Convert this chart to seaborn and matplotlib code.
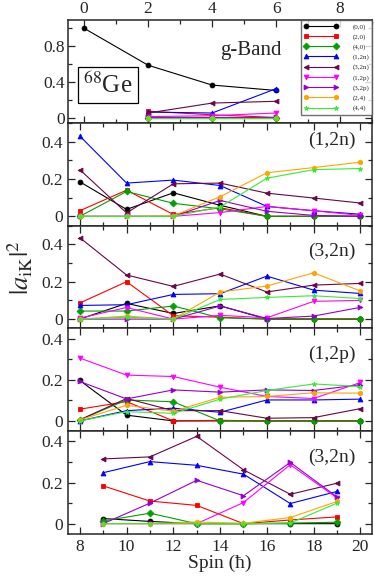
import matplotlib
matplotlib.use('Agg')
import matplotlib.pyplot as plt
from matplotlib.lines import Line2D
from matplotlib.ticker import MultipleLocator
import numpy as np
import pandas as pd
import seaborn as sns

# components and styles
comps = ['(0,0)', '(2,0)', '(4,0)', '(1,2n)', '(3,2n)', '(1,2p)', '(3,2p)', '(2,4)', '(4,4)']
colors = ['#000000', '#ff0000', '#00a000', '#0000ff', '#670748', '#ff00ff', '#9400d3', '#ffa500', '#33ee33']
marks = ['o', 's', 'D', '^', '<', 'v', '>', 'h', '*']

# g-band (spin 0..6)
spin_g = [0, 2, 4, 6]
gband = {
    '(0,0)': [1.00, 0.59, 0.37, 0.31],
    '(2,0)': [None, 0.08, 0.04, 0.01],
    '(4,0)': [None, 0.00, 0.00, 0.00],
    '(1,2n)': [None, 0.07, 0.06, 0.33],
    '(3,2n)': [None, 0.06, 0.17, 0.19],
    '(1,2p)': [None, 0.02, 0.03, 0.06],
    '(3,2p)': [None, 0.02, 0.02, 0.02],
    '(2,4)': [None, 0.00, 0.00, 0.00],
    '(4,4)': [None, 0.00, 0.00, 0.00],
}

# even-spin bands (spin 8..20)
spin_even = [8, 10, 12, 14, 16, 18, 20]
band_12n = {
    '(0,0)': [0.185, 0.037, 0.126, 0.059, 0.0, 0.0, 0.0],
    '(2,0)': [0.030, 0.140, 0.010, 0.046, 0.0, 0.0, 0.0],
    '(4,0)': [0.0, 0.133, 0.070, 0.040, 0.0, 0.0, 0.0],
    '(1,2n)': [0.430, 0.178, 0.194, 0.165, 0.053, 0.030, 0.011],
    '(3,2n)': [0.250, 0.018, 0.174, 0.178, 0.124, 0.098, 0.071],
    '(1,2p)': [0.0, 0.0, 0.0, 0.020, 0.053, 0.030, 0.005],
    '(3,2p)': [0.0, 0.0, 0.0, 0.085, 0.027, 0.005, 0.0],
    '(2,4)': [0.0, 0.0, 0.003, 0.105, 0.233, 0.261, 0.290],
    '(4,4)': [0.0, 0.0, 0.0, 0.050, 0.204, 0.250, 0.256],
}
band_32n = {
    '(0,0)': [0.0, 0.084, 0.030, 0.071, 0.0, 0.0, 0.0],
    '(2,0)': [0.086, 0.200, 0.018, 0.010, 0.0, 0.0, 0.0],
    '(4,0)': [0.043, 0.043, 0.070, 0.007, 0.0, 0.0, 0.0],
    '(1,2n)': [0.073, 0.077, 0.132, 0.136, 0.230, 0.155, 0.137],
    '(3,2n)': [0.436, 0.236, 0.175, 0.241, 0.145, 0.182, 0.191],
    '(1,2p)': [0.005, 0.062, 0.0, 0.020, 0.007, 0.095, 0.100],
    '(3,2p)': [0.0, 0.0, 0.0, 0.070, 0.003, 0.016, 0.063],
    '(2,4)': [0.0, 0.016, 0.0, 0.145, 0.177, 0.248, 0.150],
    '(4,4)': [0.0, 0.010, 0.0, 0.105, 0.116, 0.125, 0.110],
}
band_12p = {
    '(0,0)': [0.197, 0.028, 0.0, 0.0, 0.0, 0.0, 0.0],
    '(2,0)': [0.057, 0.094, 0.0, 0.003, 0.0, 0.0, 0.0],
    '(4,0)': [0.005, 0.102, 0.093, 0.0, 0.0, 0.0, 0.0],
    '(1,2n)': [0.0, 0.050, 0.062, 0.042, 0.102, 0.102, 0.106],
    '(3,2n)': [0.005, 0.109, 0.050, 0.050, 0.013, 0.016, 0.060],
    '(1,2p)': [0.306, 0.223, 0.216, 0.164, 0.119, 0.109, 0.187],
    '(3,2p)': [0.192, 0.107, 0.151, 0.140, 0.151, 0.148, 0.176],
    '(2,4)': [0.005, 0.076, 0.047, 0.115, 0.119, 0.137, 0.135],
    '(4,4)': [0.0, 0.045, 0.037, 0.106, 0.148, 0.180, 0.167],
}

# odd-spin band (spin 9..19)
spin_odd = [9, 11, 13, 15, 17, 19]
band_32n_odd = {
    '(0,0)': [0.025, 0.011, 0.0, 0.0, 0.0, 0.0],
    '(2,0)': [0.184, 0.110, 0.089, 0.0, 0.018, 0.033],
    '(4,0)': [0.013, 0.051, 0.0, 0.0, 0.003, 0.007],
    '(1,2n)': [0.248, 0.302, 0.284, 0.241, 0.098, 0.157],
    '(3,2n)': [0.315, 0.325, 0.425, 0.262, 0.143, 0.197],
    '(1,2p)': [0.0, 0.0, 0.0, 0.103, 0.287, 0.125],
    '(3,2p)': [0.0, 0.100, 0.211, 0.136, 0.298, 0.130],
    '(2,4)': [0.0, 0.0, 0.008, 0.002, 0.030, 0.108],
    '(4,4)': [0.0, 0.0, 0.0, 0.0, 0.003, 0.100],
}

panels = [
    (spin_g, gband, 'g-Band', (-0.05, 1.09)),
    (spin_even, band_12n, '(1,2n)', (-0.05, 0.5)),
    (spin_even, band_32n, '(3,2n)', (-0.05, 0.5)),
    (spin_even, band_12p, '(1,2p)', (-0.05, 0.45)),
    (spin_odd, band_32n_odd, '(3,2n)', (-0.05, 0.45)),
]

sns.set_style('ticks')
plt.rcParams['font.family'] = ['Liberation Serif', 'DejaVu Serif']
plt.rcParams['mathtext.fontset'] = 'stix'

palette = dict(zip(comps, colors))
markers = dict(zip(comps, marks))

fig = plt.figure(figsize=(3.74, 5.76), dpi=100)
gs = fig.add_gridspec(5, 1, hspace=0, left=0.182, right=0.995, top=0.965, bottom=0.073)
axes = []
for i, (spins, band, label, ylim) in enumerate(panels):
    ax = fig.add_subplot(gs[i])
    axes.append(ax)
    rows = []
    for c in comps:
        for s, v in zip(spins, band[c]):
            if v is not None:
                rows.append({'spin': s, 'val': v, 'comp': c})
    df = pd.DataFrame(rows)
    sns.lineplot(data=df, x='spin', y='val', hue='comp', style='comp', hue_order=comps,
                 style_order=comps, palette=palette, markers=markers, dashes=False,
                 markersize=3.5, linewidth=0.8, legend=False, ax=ax)
    for ln in ax.get_lines():
        ln.set_markeredgecolor(ln.get_color())
        ln.set_markeredgewidth(0.6)
    ax.set_ylim(*ylim)
    ax.set_xlabel('')
    ax.set_ylabel('')
    for sp in ax.spines.values():
        sp.set_linewidth(1.1)
    ax.tick_params(which='both', direction='in', top=True, right=True, labelsize=12.5, width=0.9)
    ax.tick_params(which='major', length=5)
    ax.tick_params(which='minor', length=3)
    if i == 0:
        ax.set_xlim(-0.5, 9.0)
        ax.xaxis.set_major_locator(MultipleLocator(2))
        ax.xaxis.set_minor_locator(MultipleLocator(1))
        ax.set_yticks([0, 0.4, 0.8])
        ax.set_yticklabels(['0', '0.4', '0.8'])
        ax.yaxis.set_minor_locator(MultipleLocator(0.2))
        ax.tick_params(labeltop=True, labelbottom=False, pad=2)
        ax.text(0.6, 0.7, label, transform=ax.transAxes, fontsize=15, ha='center', va='center')
        ax.text(0.05, 0.37, r'$^{68}$Ge', transform=ax.transAxes, fontsize=18, ha='left', va='center',
                bbox=dict(boxstyle='square,pad=0.2', fc='white', ec='black', lw=0.9))
    else:
        ax.set_xlim(7.5, 20.5)
        ax.xaxis.set_major_locator(MultipleLocator(2))
        ax.xaxis.set_minor_locator(MultipleLocator(1))
        ax.set_yticks([0, 0.2, 0.4])
        ax.set_yticklabels(['0', '0.2', '0.4'])
        ax.yaxis.set_minor_locator(MultipleLocator(0.1))
        ypos = 0.83 if i == 1 else 0.75
        ax.text(0.945, ypos, label, transform=ax.transAxes, fontsize=14, ha='right', va='center')
        if i < 4:
            ax.tick_params(labelbottom=False)

axes[-1].set_xlabel('Spin (ħ)', fontsize=14, labelpad=0)
fig.text(0.055, 0.535, r'$|a_{\rm iK}|^2$', rotation=90, fontsize=19, ha='center', va='center')

handles = [Line2D([0], [0], color=c, marker=m, markersize=3.5, lw=0.8, mec=c, mew=0.6)
           for c, m in zip(colors, marks)]
leg = axes[0].legend(handles, comps, loc='upper right', bbox_to_anchor=(1.0, 1.0), borderaxespad=0,
                     fontsize=5, numpoints=2, handlelength=5.0, labelspacing=0.58, borderpad=0.45,
                     frameon=True, fancybox=False, edgecolor='0.3', handletextpad=2.0)
leg.get_frame().set_linewidth(1.0)

fig.savefig('out.png', dpi=100)
